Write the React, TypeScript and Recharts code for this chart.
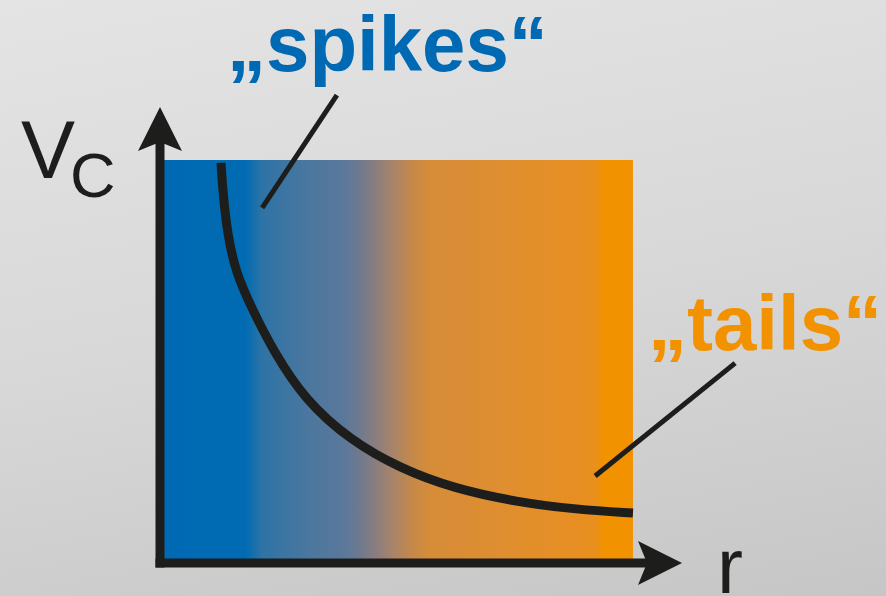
import { ComposedChart, Line, ReferenceArea, ReferenceLine, XAxis, YAxis } from "recharts";

// curve Vc(r) (r axis 0..10 = width of the coloured box)
const rValues = [1.29, 1.33, 1.42, 1.6, 1.95, 2.4, 3.07, 4.02, 5.07, 6.2, 7.6, 8.8, 10.0];
const vcValues = [9.93, 9.2, 8.2, 7.2, 6.3, 5.25, 4.04, 3.05, 2.35, 1.85, 1.5, 1.33, 1.24];

// leader lines from the labels to the curve: [r1, vc1, r2, vc2]
const spikesLeader = [3.74, 11.61, 2.16, 8.81];
const tailsLeader = [12.16, 4.96, 9.2, 2.16];

const spikesLabel = "„spikes“";
const tailsLabel = "„tails“";

const data = rValues.map((r, i) => ({ r, vc: vcValues[i] }));

const INK = "#1d1d1b";
const BLUE = "#0069b4";
const ORANGE = "#f39200";

const boxStops: [number, string][] = [
  [0, "#0069b4"],
  [0.18, "#006bb2"],
  [0.216, "#2e73a6"],
  [0.317, "#4c779e"],
  [0.391, "#5b789a"],
  [0.427, "#727a8c"],
  [0.461, "#8e7e7c"],
  [0.493, "#a8846a"],
  [0.535, "#c68948"],
  [0.571, "#d68c38"],
  [0.719, "#df8e30"],
  [0.92, "#e98f1f"],
  [0.937, "#f19200"],
  [1, "#f39200"],
];

export default function App() {
  return (
    <div
      style={{
        position: "fixed",
        left: 0,
        top: 0,
        width: 886,
        height: 596,
        overflow: "hidden",
        background: "linear-gradient(170deg, #e4e4e4 0%, #d8d8d8 50%, #c6c6c6 100%)",
      }}
    >
      <ComposedChart
        width={886}
        height={596}
        data={data}
        margin={{ top: 139, right: 236, bottom: 13, left: 140 }}
      >
        <defs>
          <linearGradient id="boxGrad" x1="0" y1="0" x2="1" y2="0">
            {boxStops.map(([o, c]) => (
              <stop key={o} offset={o} stopColor={c} />
            ))}
          </linearGradient>
          <marker
            id="arrowHead"
            viewBox="0 0 46 46"
            markerWidth={46}
            markerHeight={46}
            refX={12}
            refY={23}
            orient="auto-start-reverse"
            markerUnits="userSpaceOnUse"
          >
            <path d="M44 23 L0 1 L9 23 L0 45 Z" fill={INK} />
          </marker>
        </defs>
        <ReferenceArea
          x1={0}
          x2={10}
          y1={0}
          y2={10}
          fill="url(#boxGrad)"
          fillOpacity={1}
          stroke="none"
          ifOverflow="visible"
        />
        <Line
          dataKey="vc"
          type="basis"
          stroke={INK}
          strokeWidth={9}
          dot={false}
          activeDot={false}
          isAnimationActive={false}
        />
        <ReferenceLine
          segment={[
            { x: spikesLeader[0], y: spikesLeader[1] },
            { x: spikesLeader[2], y: spikesLeader[3] },
          ]}
          stroke={INK}
          strokeWidth={5}
          ifOverflow="visible"
        />
        <ReferenceLine
          segment={[
            { x: tailsLeader[0], y: tailsLeader[1] },
            { x: tailsLeader[2], y: tailsLeader[3] },
          ]}
          stroke={INK}
          strokeWidth={5}
          ifOverflow="visible"
        />
        <XAxis
          type="number"
          dataKey="r"
          domain={[0, 10.36]}
          allowDataOverflow
          height={20}
          tick={false}
          tickLine={false}
          axisLine={{
            stroke: INK,
            strokeWidth: 9,
            strokeLinecap: "square",
            markerEnd: "url(#arrowHead)",
          }}
        />
        <YAxis
          type="number"
          domain={[0, 10.52]}
          allowDataOverflow
          width={20}
          tick={false}
          tickLine={false}
          axisLine={{
            stroke: INK,
            strokeWidth: 9,
            strokeLinecap: "square",
            markerStart: "url(#arrowHead)",
          }}
        />
        <text
          x={227}
          y={71}
          fill={BLUE}
          fontFamily="'Liberation Sans', Arial, sans-serif"
          fontWeight="bold"
          fontSize={78}
        >
          {spikesLabel}
        </text>
        <text
          x={648}
          y={350}
          fill={ORANGE}
          fontFamily="'Liberation Sans', Arial, sans-serif"
          fontWeight="bold"
          fontSize={78}
        >
          {tailsLabel}
        </text>
        <text
          x={21}
          y={178}
          fill={INK}
          fontFamily="'Liberation Sans', Arial, sans-serif"
          fontSize={81}
        >
          V
        </text>
        <text
          x={70}
          y={197}
          fill={INK}
          fontFamily="'Liberation Sans', Arial, sans-serif"
          fontSize={63}
        >
          C
        </text>
        <text
          x={717}
          y={593}
          fill={INK}
          fontFamily="'Liberation Sans', Arial, sans-serif"
          fontSize={78}
        >
          r
        </text>
      </ComposedChart>
    </div>
  );
}
